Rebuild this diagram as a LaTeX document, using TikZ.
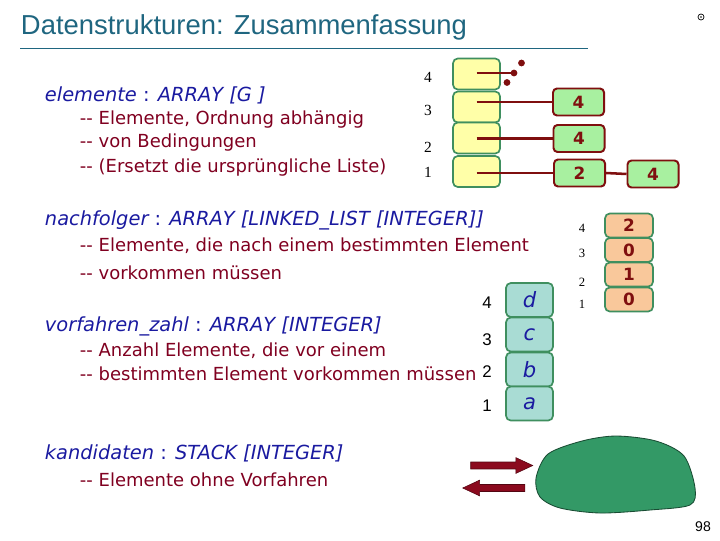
\documentclass[tikz,border=0pt]{standalone}
\usepackage{fontspec}
\setmainfont{DejaVu Sans}
\newfontfamily\titlefont{Liberation Sans}
\newfontfamily\numfont{Liberation Serif}
\usepackage{tikz}
\usetikzlibrary{positioning, shapes.arrows}
\definecolor{TitleColor}{RGB}{31,102,128}
\definecolor{DeclColor}{RGB}{26,26,160}
\definecolor{CommentColor}{RGB}{128,0,32}
\definecolor{LinkColor}{RGB}{127,15,15}
\definecolor{CellBorder}{RGB}{63,143,95}
\definecolor{ElemColor}{RGB}{255,255,168}
\definecolor{SuccColor}{RGB}{168,240,160}
\definecolor{PredColor}{RGB}{249,200,155}
\definecolor{ValColor}{RGB}{169,220,212}
\definecolor{StackColor}{RGB}{51,153,102}
\definecolor{ArrowColor}{RGB}{139,10,30}
\newcommand{\bodysize}{\fontsize{12.8}{15}\selectfont}
\newcommand{\declsize}{\fontsize{13.8}{16}\selectfont}
\newcommand{\cmt}{-{}-\ }
\tikzset{
    cell/.style={
        rectangle,
        rounded corners=1.2mm,
        draw=CellBorder,
        line width=1.2pt,
        inner sep=0pt
    },
    elemcell/.style={cell, fill=ElemColor, minimum width=1.175cm, minimum height=0.775cm},
    predcell/.style={cell, fill=PredColor, minimum width=1.2cm, minimum height=0.6cm,
        font=\fontsize{12}{14}\selectfont\bfseries, text=LinkColor},
    valcell/.style={cell, fill=ValColor, minimum width=1.175cm, minimum height=0.85cm,
        font=\fontsize{15}{18}\selectfont\itshape, text=DeclColor},
    succ/.style={
        rectangle,
        rounded corners=1mm,
        draw=LinkColor,
        line width=1.4pt,
        fill=SuccColor,
        minimum width=1.275cm,
        minimum height=0.675cm,
        inner sep=0pt,
        font=\fontsize{12}{14}\selectfont\bfseries,
        text=LinkColor
    },
    link/.style={draw=LinkColor, line width=1.8pt},
    voiddot/.style={fill=LinkColor},
    decl/.style={anchor=west, text=DeclColor, font=\declsize\itshape},
    comment/.style={anchor=west, text=CommentColor, font=\bodysize},
    idx/.style={font=\numfont\fontsize{11}{13}\selectfont},
    smallidx/.style={font=\numfont\fontsize{9}{11}\selectfont},
    validx/.style={font=\titlefont\fontsize{12}{14}\selectfont},
    blockarrow/.style={
        single arrow,
        draw=ArrowColor!60!black,
        fill=ArrowColor,
        minimum height=1.55cm,
        inner sep=0.08cm,
        single arrow head extend=0.11cm,
        single arrow head indent=0pt,
        single arrow tip angle=50
    }
}

\begin{document}
\begin{tikzpicture}[x=0.025cm, y=-0.025cm]
\useasboundingbox (0,0) rectangle (720,540);

% Title
\node[anchor=west, font=\titlefont\fontsize{19.5}{24}\selectfont, text=TitleColor] (title) at (16,27) {Datenstrukturen: Zusammenfassung};
\draw[TitleColor, line width=0.7pt] (20,48) -- (588,48);
\draw[line width=0.5pt] (701,17) circle[radius=0.075cm];
\fill (701,17) circle[radius=0.02cm];

% elemente
\node[decl] (d_elem) at (40,95) {elemente {\upshape:} ARRAY [G ]};
\node[comment] (c_elem1) at (75,120) {\cmt Elemente, Ordnung abhängig};
\node[comment] (c_elem2) at (75,143) {\cmt von Bedingungen};
\node[comment] (c_elem3) at (75,168) {\cmt (Ersetzt die ursprüngliche Liste)};

\node[elemcell] (e4) at (476.5,74) {};
\node[elemcell] (e3) at (476.5,107) {};
\node[elemcell] (e2) at (476.5,138) {};
\node[elemcell] (e1) at (476.5,171.5) {};
\node[idx] at (428,77) {4};
\node[idx] at (428,110) {3};
\node[idx] at (428,147) {2};
\node[idx] at (428,172) {1};

% nachfolger lists
\node[succ] (s3) at (578.5,102) {4};
\node[succ] (s2) at (579,138.5) {4};
\node[succ] (s1) at (579.5,173) {2};
\node[succ] (s1b) at (653,174) {4};
\coordinate (void) at (514,73);
\draw[link] (e4.center |- void) -- (void);
\fill[voiddot] (void) circle[radius=0.085cm];
\fill[voiddot] (521.5,63) circle[radius=0.085cm];
\fill[voiddot] (507,82.5) circle[radius=0.085cm];
\draw[link] (e3.center |- s3.west) -- (s3.west);
\draw[link] (e2.center |- s2.west) -- (s2.west);
\draw[link] (e1.center |- s1.west) -- (s1.west);
\draw[link] (s1.east) -- (s1b.west);

\node[decl] (d_succ) at (40,220) {nachfolger {\upshape:} ARRAY [LINKED\_LIST [INTEGER]]};
\node[comment] (c_succ1) at (75,246) {\cmt Elemente, die nach einem bestimmten Element};
\node[comment] (c_succ2) at (75,273) {\cmt vorkommen müssen};

% vorfahren_zahl
\node[predcell] (p4) at (629,225.5) {2};
\node[predcell] (p3) at (629,250) {0};
\node[predcell] (p2) at (629,274.5) {1};
\node[predcell] (p1) at (629,299.5) {0};
\node[smallidx] at (582,228) {4};
\node[smallidx] at (582,253) {3};
\node[smallidx] at (582,282) {2};
\node[smallidx] at (582,304) {1};

\node[decl] (d_pred) at (40,326) {vorfahren\_zahl {\upshape:} ARRAY [INTEGER]};
\node[comment] (c_pred1) at (75,351) {\cmt Anzahl Elemente, die vor einem};
\node[comment] (c_pred2) at (75,374) {\cmt bestimmten Element vorkommen müssen};

% Werte
\node[valcell] (v4) at (529.5,300) {d};
\node[valcell] (v3) at (529.5,334.5) {c};
\node[valcell] (v2) at (529.5,369.5) {b};
\node[valcell] (v1) at (529.5,403.5) {a};
\node[validx] at (487,303) {4};
\node[validx] at (487,340) {3};
\node[validx] at (487,372) {2};
\node[validx] at (487,406) {1};

% kandidaten
\node[decl] (d_cand) at (40,453) {kandidaten {\upshape:} STACK [INTEGER]};
\node[comment] (c_cand) at (75,480) {\cmt Elemente ohne Vorfahren};
\node[blockarrow] (push) at (498,465.5) {};
\node[blockarrow, shape border rotate=180] (pop) at (497.5,488) {};
\filldraw[fill=StackColor, draw=StackColor!50!black, line width=0.6pt]
    plot[smooth cycle] coordinates {(536,478) (548,454) (582,441) (616,436) (656,441) (684,456) (695,488) (690,505) (650,510) (600,513) (560,508) (540,497)};

\node[font=\titlefont\fontsize{10}{12}\selectfont] (page) at (703,527) {98};

\end{tikzpicture}
\end{document}
